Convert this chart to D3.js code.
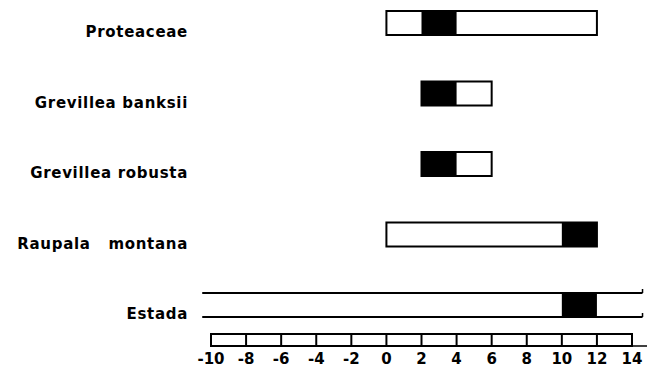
<!DOCTYPE html>
<html>
<head>
<meta charset="utf-8">
<script src="https://cdn.jsdelivr.net/npm/d3@7"></script>
<style>
  body { margin: 0; background: #fff; }
  svg { display: block; }
  text { font-family: "DejaVu Sans", sans-serif; font-weight: bold; fill: #000; }
</style>
</head>
<body>
<div class="canvas"></div>
<script>
// Taxa (rows, top to bottom)
const taxa = ["Proteaceae", "Grevillea banksii", "Grevillea robusta", "Raupala   montana", "Estada"];
// Open (outlined) range of each row, in axis units
const rangeFrom = [0, 2, 2, 0, -10.5];
const rangeTo = [12, 6, 6, 12, 14.6];
// Solid (black) part of each row
const solidFrom = [2, 2, 2, 10, 10];
const solidTo = [4, 4, 4, 12, 12];
// Scale ticks
const ticks = [-10, -8, -6, -4, -2, 0, 2, 4, 6, 8, 10, 12, 14];

const width = 650, height = 367;
const svg = d3.select(".canvas")
    .append("svg")
    .attr("width", width)
    .attr("height", height);

const x = d3.scaleLinear().domain([-10, 14]).range([211, 632]);
const y = d3.scalePoint().domain(taxa).range([23, 305]);
const barH = 24;

const rows = taxa.map((name, i) => ({
    name, from: rangeFrom[i], to: rangeTo[i], s0: solidFrom[i], s1: solidTo[i], open: name === "Estada"
}));

// Labels
svg.selectAll("text.label")
    .data(rows)
    .enter().append("text")
    .attr("class", "label")
    .attr("x", 188)
    .attr("y", d => y(d.name) + 14)
    .attr("text-anchor", "end")
    .attr("font-size", 15)
    .attr("letter-spacing", 0.7)
    .style("white-space", "pre")
    .text(d => d.name);

// Solid parts first, outline drawn on top
svg.selectAll("rect.solid")
    .data(rows)
    .enter().append("rect")
    .attr("class", "solid")
    .attr("x", d => x(d.s0))
    .attr("y", d => y(d.name) - barH / 2)
    .attr("width", d => x(d.s1) - x(d.s0))
    .attr("height", barH)
    .attr("fill", "#000");

// Closed boxes
svg.selectAll("rect.box")
    .data(rows.filter(d => !d.open))
    .enter().append("rect")
    .attr("class", "box")
    .attr("x", d => x(d.from))
    .attr("y", d => y(d.name) - barH / 2)
    .attr("width", d => x(d.to) - x(d.from))
    .attr("height", barH)
    .attr("fill", "none")
    .attr("stroke", "#000")
    .attr("stroke-width", 2);

// Open-ended row (two long lines)
rows.filter(d => d.open).forEach(d => {
    [-1, 1].forEach(s => {
        const yy = y(d.name) + s * barH / 2;
        svg.append("line")
            .attr("x1", x(d.from)).attr("x2", x(d.to))
            .attr("y1", yy).attr("y2", yy)
            .attr("stroke", "#000").attr("stroke-width", 2);
        svg.append("line")
            .attr("x1", x(d.to)).attr("x2", x(d.to))
            .attr("y1", yy).attr("y2", yy - 4)
            .attr("stroke", "#000").attr("stroke-width", 1.5);
    });
});

// Scale bar: a segmented box with labels below
const axisTop = 334, axisH = 12;
const axisG = svg.append("g");
axisG.append("rect")
    .attr("x", x(-10)).attr("y", axisTop)
    .attr("width", x(14) - x(-10)).attr("height", axisH)
    .attr("fill", "none").attr("stroke", "#000").attr("stroke-width", 2);
axisG.selectAll("line.div")
    .data(ticks.slice(1, -1))
    .enter().append("line")
    .attr("class", "div")
    .attr("x1", d => x(d)).attr("x2", d => x(d))
    .attr("y1", axisTop).attr("y2", axisTop + axisH)
    .attr("stroke", "#000").attr("stroke-width", 2);
axisG.append("line")
    .attr("x1", x(14)).attr("x2", 647)
    .attr("y1", axisTop + axisH).attr("y2", axisTop + axisH)
    .attr("stroke", "#000").attr("stroke-width", 1.5);
axisG.selectAll("text.tick")
    .data(ticks)
    .enter().append("text")
    .attr("class", "tick")
    .attr("x", d => x(d))
    .attr("y", 364)
    .attr("text-anchor", "middle")
    .attr("font-size", 15)
    .text(d => d);
</script>
</body>
</html>
